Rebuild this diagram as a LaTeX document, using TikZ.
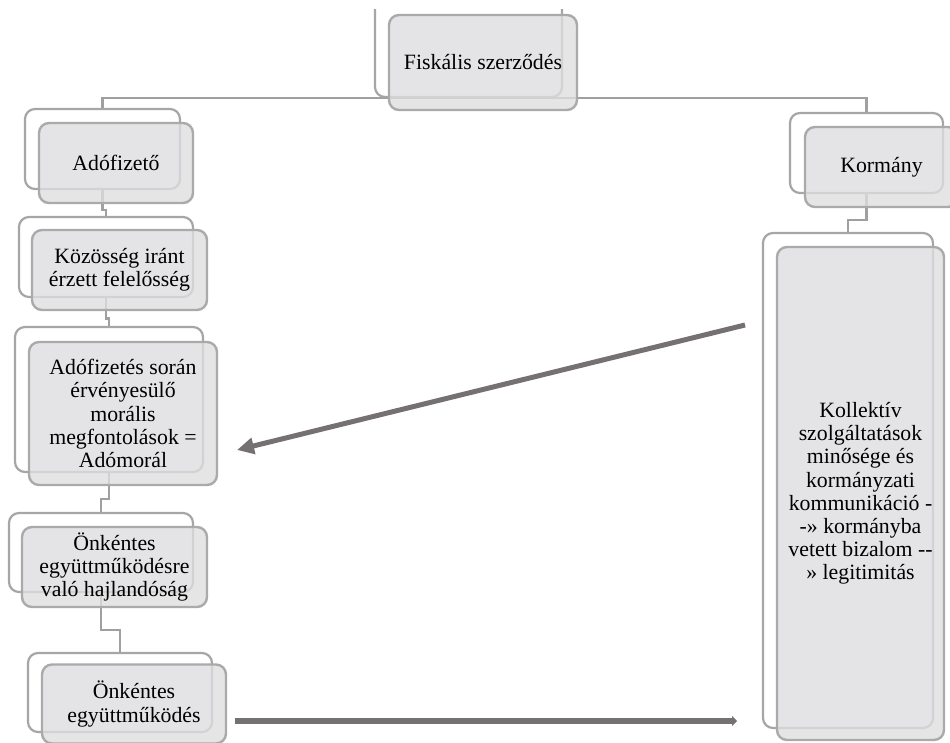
\documentclass[tikz,border=0pt]{standalone}
\usepackage{fontspec}
\setmainfont{Liberation Serif}
\usepackage{tikz}
\usetikzlibrary{calc,arrows.meta}

\definecolor{frameline}{RGB}{166,166,166}
\definecolor{boxline}{RGB}{170,170,170}
\definecolor{boxfill}{RGB}{222,222,224}
\definecolor{linkgray}{RGB}{160,160,160}
\definecolor{arrowgray}{RGB}{118,113,113}

\pgfdeclarelayer{frames}
\pgfdeclarelayer{links}
\pgfsetlayers{frames,links,main}

\begin{document}
\begin{tikzpicture}[x = 1pt,
                    y = -1pt,
                    color = {black}]
% styles of boxes
\tikzset{dims/.style 2 args={minimum width=#1pt, minimum height=#2pt}}
\tikzset{framestyle/.style={draw=frameline, fill=white, line width=2.2pt, rounded corners=10pt, inner sep=0pt}}
\tikzset{facestyle/.style={draw=boxline, fill=boxfill, fill opacity=.8, text opacity=1, line width=2.4pt, rounded corners=10pt, inner sep=0pt, align=center, font=\fontsize{21.8}{23.2}\selectfont}}
\tikzset{link/.style={draw=linkgray, line width=2.3pt}}
\tikzset{bigarrow/.style={draw=arrowgray, line width=5pt, -{Triangle[length=17pt,width=16pt]}}}
\tikzset{flatarrow/.style={draw=arrowgray, line width=5.5pt, -{Triangle[length=5pt,width=10pt]}}}

\useasboundingbox (0,0) rectangle (950,742);

%frames behind the boxes
\begin{pgfonlayer}{frames}
\begin{scope}
\clip (0,9) rectangle (950,742);
\node[framestyle, dims={187}{137}] (fisk-b) at (468.5,28.5) {};
\end{scope}
\node[framestyle, dims={155}{80}]  (adof-b) at (102.5,149) {};
\node[framestyle, dims={174}{80}]  (koz-b)  at (106,257) {};
\node[framestyle, dims={188}{145}] (adom-b) at (109,399.5) {};
\node[framestyle, dims={184}{79}]  (hajl-b) at (101,552.5) {};
\node[framestyle, dims={184}{79}]  (onk-b)  at (120,692.5) {};
\node[framestyle, dims={153}{80}]  (korm-b) at (866.5,153) {};
\node[framestyle, dims={170}{495}] (koll-b) at (848,480.5) {};
\end{pgfonlayer}

%boxes
\node[facestyle, dims={188}{95}]  (fisk-f) at (483,62.5) {Fiskális szerződés};
\node[facestyle, dims={154}{80}]  (adof-f) at (116,163) {Adófizető};
\node[facestyle, dims={175}{80}]  (koz-f)  at (119.5,270) {Közösség iránt\\érzett felelősség};
\node[facestyle, dims={188}{143}] (adom-f) at (123,413.5) {Adófizetés során\\érvényesülő\\morális\\megfontolások =\\Adómorál};
\node[facestyle, dims={185}{80}]  (hajl-f) at (114.5,567) {Önkéntes\\együttműködésre\\való hajlandóság};
\node[facestyle, dims={184}{79}]  (onk-f)  at (134,704) {Önkéntes\\együttműködés};
\node[facestyle, dims={153}{80}]  (korm-f) at (881.5,167) {Kormány};
\node[facestyle, dims={167}{493}] (koll-f) at (860.5,493.5) {Kollektív\\szolgáltatások\\minősége és\\kormányzati\\kommunikáció -\\-» kormányba\\vetett bizalom -{}-\\» legitimitás};

%connectors
\coordinate (j1) at ($(adof-f.south)!.5!(koz-b.north)$);
\coordinate (j2) at ($(koz-f.south)!.5!(adom-b.north)$);
\coordinate (j3) at ($(adom-f.south)!.5!(hajl-b.north)$);
\coordinate (j4) at ($(hajl-f.south)!.5!(onk-b.north)$);
\coordinate (j5) at ($(korm-f.south)!.5!(koll-b.north)$);
\begin{pgfonlayer}{links}
\draw[link] (adof-b.north) |- (fisk-b.south) -| (korm-b.north);
\draw[link] (adof-b.south) |- (j1 -| koz-b.north) -- (koz-b.north);
\draw[link] (koz-b.south)  |- (j2 -| adom-b.north) -- (adom-b.north);
\draw[link] (adom-b.south) |- (j3 -| hajl-b.north) -- (hajl-b.north);
\draw[link] (hajl-b.south) |- (j4 -| onk-b.north) -- (onk-b.north);
\draw[link] (korm-b.south) |- (j5 -| koll-b.north) -- (koll-b.north);
\end{pgfonlayer}

%arrows
\coordinate (kollOut) at (745,325);
\coordinate (moralIn) at (237,450);
\coordinate (coopOut) at (235,721);
\coordinate (kollIn)  at (737,721);
\draw[bigarrow] (kollOut) -- (moralIn);
\draw[flatarrow] (coopOut) -- (kollIn);
\end{tikzpicture}
\end{document}
